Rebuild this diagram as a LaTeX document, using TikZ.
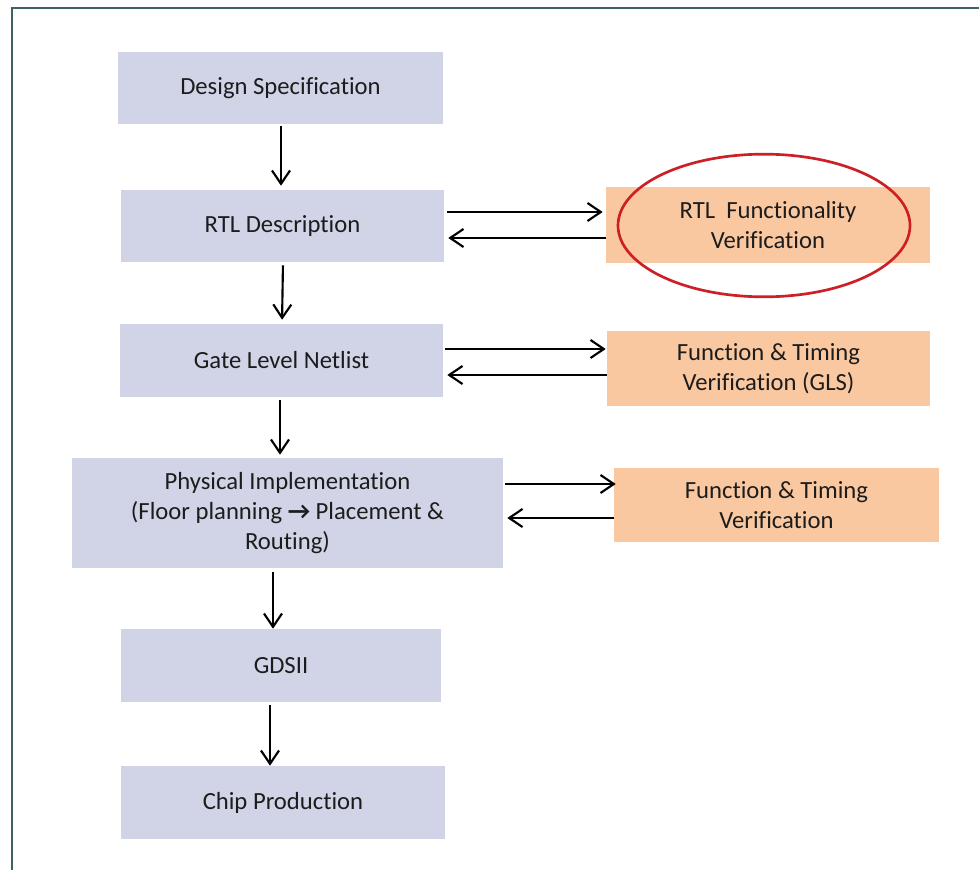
\documentclass[tikz,border=0pt]{standalone}
\usepackage{fontspec}
\setmainfont{Carlito}[Ligatures={NoCommon}]
\usetikzlibrary{arrows.meta,shapes.geometric}
\definecolor{flowfill}{RGB}{208,212,230}
\definecolor{checkfill}{RGB}{249,200,160}
\definecolor{ink}{RGB}{28,28,28}
\definecolor{framecol}{RGB}{62,98,100}
\definecolor{markred}{RGB}{205,32,38}
\begin{document}
\begin{tikzpicture}[x=0.75pt,y=-0.75pt,
  flowbox/.style={fill=flowfill,draw=none,inner sep=0pt,align=center,text=ink,
    font=\fontsize{18.5}{22.5}\selectfont},
  checkbox/.style={flowbox,fill=checkfill},
  arr/.style={draw=black,line width=1.6pt,-{Straight Barb[length=10pt,width=13.5pt,line width=1.6pt]}}]
\useasboundingbox (0,0) rectangle (979,870);
\fill[white] (0,0) rectangle (979,870);
% outer frame (top and left edges)
\draw[framecol,line width=1.5pt] (12,870) -- (12,8) -- (979,8);

% main flow
\node[flowbox,minimum width=243.75pt,minimum height=54pt] (ds) at (280.5,88) {Design Specification};
\node[flowbox,minimum width=242.25pt,minimum height=54pt] (rtl) at (282.5,226) {RTL Description};
\node[flowbox,minimum width=242.25pt,minimum height=54.75pt] (gate) at (281.5,360.5) {Gate Level Netlist};
\node[flowbox,minimum width=323.25pt,minimum height=82.5pt] (phys) at (287.5,513)
  {Physical Implementation\\(Floor planning \textbf{\textrightarrow}\ Placement \&\\Routing)};
\node[flowbox,minimum width=240pt,minimum height=54.75pt] (gds) at (281,665.5) {GDSII};
\node[flowbox,minimum width=243pt,minimum height=54.75pt] (chip) at (283,802.5) {Chip Production};

% verification steps
\node[checkbox,minimum width=243pt,minimum height=57pt] (rtlv) at (768,225) {RTL\ \ Functionality\\Verification};
\node[checkbox,minimum width=242.25pt,minimum height=56.25pt] (glsv) at (768.5,368.5) {Function \& Timing\\Verification (GLS)};
\node[checkbox,minimum width=243.75pt,minimum height=55.5pt] (ftv) at (776.5,505) {Function \& Timing\\Verification};

% highlight around the RTL verification step
\node[draw=markred,line width=2pt,ellipse,minimum width=219pt,minimum height=107pt,inner sep=0pt] (hl) at (764,225.5) {};

% vertical flow arrows
\draw[arr,shorten <=1.5pt,shorten >=3pt] ([xshift=0.375pt]ds.south) -- ([xshift=-1.125pt]rtl.north);
\draw[arr,shorten <=2.25pt,shorten >=3pt] ([xshift=0.375pt]rtl.south) -- ([xshift=0.375pt]gate.north);
\draw[arr,shorten <=2.25pt,shorten >=2.25pt] ([xshift=-1.125pt]gate.south) -- ([xshift=-5.625pt]phys.north);
\draw[arr,shorten <=3pt] ([xshift=-10.875pt]phys.south) -- ([xshift=-6pt]gds.north);
\draw[arr,shorten <=2.25pt] ([xshift=-8.25pt]gds.south) -- ([xshift=-9.75pt]chip.north);

% verification loops
\draw[arr,shorten <=2.25pt,shorten >=2.25pt] ([yshift=10.5pt]rtl.east) -- ([yshift=9.75pt]rtlv.west);
\draw[arr,shorten >=3pt] ([yshift=-9.75pt]rtlv.west) -- ([yshift=-9pt]rtl.east);
\draw[arr,shorten <=1.5pt,shorten >=0.75pt] ([yshift=8.625pt]gate.east) -- ([yshift=14.625pt]glsv.west);
\draw[arr,shorten >=3pt] ([yshift=-4.875pt]glsv.west) -- ([yshift=-10.875pt]gate.east);
\draw[arr,shorten <=1.5pt,shorten >=-1.5pt] ([yshift=21.75pt]phys.east) -- ([yshift=15.75pt]ftv.west);
\draw[arr,shorten >=3pt] ([yshift=-9.75pt]ftv.west) -- ([yshift=-3.75pt]phys.east);
\end{tikzpicture}
\end{document}
